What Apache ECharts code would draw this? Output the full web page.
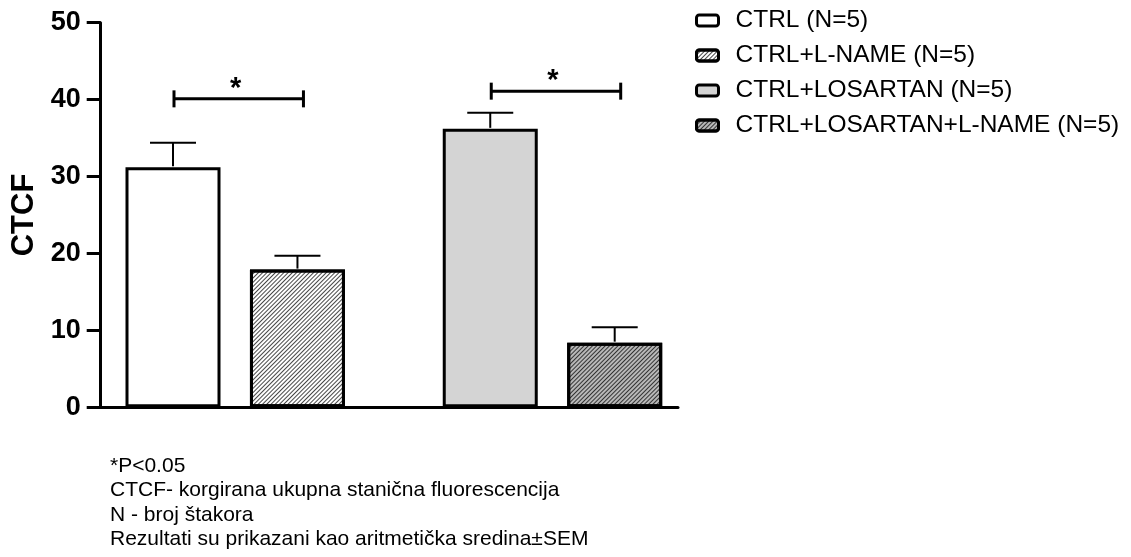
<!DOCTYPE html>
<html>
<head>
<meta charset="utf-8">
<script src="https://cdn.jsdelivr.net/npm/echarts@6/dist/echarts.min.js"></script>
<style>
  html, body { margin: 0; padding: 0; background: #fff; }
  #chart { width: 1131px; height: 557px; }
</style>
</head>
<body>
<div id="chart"></div>
<script>
// ---- data ----
const groups = ['CTRL', 'CTRL+LOSARTAN'];
const seriesNames = ['CTRL (N=5)', 'CTRL+L-NAME (N=5)', 'CTRL+LOSARTAN (N=5)', 'CTRL+LOSARTAN+L-NAME (N=5)'];
const means = [31.2, 17.9, 36.2, 8.4];
const sems = [3.2, 1.8, 2.1, 2.0];
const sigLevels = [40.1, 41.1];
const sigLabel = '*';
const yTicks = [0, 10, 20, 30, 40, 50];
const yTitle = 'CTCF';
const footnotes = [
  '*P<0.05',
  'CTCF- korgirana ukupna stanična fluorescencija',
  'N - broj štakora',
  'Rezultati su prikazani kao aritmetička sredina±SEM'
];

// ---- styles ----
const FONT = 'Arial, "Liberation Sans", sans-serif';
const fills = ['#ffffff', '#ffffff', '#d4d4d4', '#b8b8b8'];
const hatched = [false, true, false, true];
const BAR_W = 95;
const GAP_RATIO = 0.31;
const BAR_GAP = (GAP_RATIO * 100) + '%';
const HALF_STEP = (BAR_W + BAR_W * GAP_RATIO) / 2;

const hatchDecal = {
  symbol: 'rect',
  symbolSize: 1,
  color: 'rgba(0,0,0,0.72)',
  dashArrayX: [1, 0],
  dashArrayY: [1, 2],
  rotation: -Math.PI / 4
};

const chart = echarts.init(document.getElementById('chart'), null, { renderer: 'canvas' });

const barSeries = seriesNames.map((name, i) => {
  const g = Math.floor(i / 2);
  const data = groups.map((_, k) => (k === g ? means[i] : '-'));
  return {
    name: name,
    type: 'bar',
    xAxisIndex: 1,
    yAxisIndex: 1,
    stack: 'slot' + (i % 2),
    barWidth: BAR_W,
    barGap: BAR_GAP,
    data: data,
    itemStyle: {
      color: fills[i],
      borderColor: '#000',
      borderWidth: 3,
      decal: hatched[i] ? hatchDecal : null
    },
    emphasis: { disabled: true },
    z: 2
  };
});

const errData = means.map((m, i) => [Math.floor(i / 2), m, m + sems[i], i % 2]);

const errSeries = {
  type: 'custom',
  xAxisIndex: 1,
  yAxisIndex: 1,
  data: errData,
  z: 3,
  silent: true,
  renderItem: function (params, api) {
    const cx = api.coord([api.value(0), 0])[0] + (api.value(3) === 0 ? -1 : 1) * HALF_STEP;
    const yb = api.coord([api.value(0), api.value(1)])[1];
    const yt = api.coord([api.value(0), api.value(2)])[1];
    const st = { stroke: '#000', lineWidth: 2 };
    return {
      type: 'group',
      children: [
        { type: 'line', shape: { x1: cx, y1: yb - 1, x2: cx, y2: yt }, style: st },
        { type: 'line', shape: { x1: cx - 23, y1: yt, x2: cx + 23, y2: yt }, style: st }
      ]
    };
  }
};

const sigSeries = {
  type: 'custom',
  xAxisIndex: 1,
  yAxisIndex: 1,
  data: sigLevels.map((v, k) => [k, v]),
  z: 3,
  silent: true,
  renderItem: function (params, api) {
    const c = api.coord([api.value(0), api.value(1)]);
    const x1 = c[0] - HALF_STEP + 1;
    const x2 = c[0] + HALF_STEP + 6;
    const y = c[1];
    const st = { stroke: '#000', lineWidth: 3 };
    return {
      type: 'group',
      children: [
        { type: 'line', shape: { x1: x1, y1: y, x2: x2, y2: y }, style: st },
        { type: 'line', shape: { x1: x1, y1: y - 8.5, x2: x1, y2: y + 8.5 }, style: st },
        { type: 'line', shape: { x1: x2, y1: y - 8.5, x2: x2, y2: y + 8.5 }, style: st },
        {
          type: 'text',
          x: (x1 + x2) / 2 - 3,
          y: y - 10,
          style: {
            text: sigLabel,
            fill: '#000',
            font: 'bold 29px ' + FONT,
            align: 'center',
            verticalAlign: 'middle'
          }
        }
      ]
    };
  }
};

const option = {
  animation: false,
  backgroundColor: '#fff',
  title: {
    text: footnotes.join('\n'),
    left: 105,
    top: 449,
    textStyle: {
      fontFamily: FONT,
      fontSize: 21,
      fontWeight: 'normal',
      color: '#000',
      lineHeight: 24.4
    }
  },
  legend: {
    orient: 'vertical',
    left: 690,
    top: 3,
    itemWidth: 22,
    itemHeight: 11,
    itemGap: 10,
    icon: 'roundRect',
    data: seriesNames,
    selectedMode: false,
    itemStyle: { borderWidth: 3, borderColor: '#000' },
    textStyle: {
      fontFamily: FONT,
      fontSize: 24.5,
      color: '#000',
      lineHeight: 24.5,
      padding: [0, 0, 0, 12]
    }
  },
  grid: [
    { left: 100.7, right: 453, top: 22.7, bottom: 149.7, containLabel: false, outerBoundsMode: 'none' },
    { left: 76.6, right: 419.9, top: 22.7, bottom: 149.7, containLabel: false, outerBoundsMode: 'none' }
  ],
  xAxis: [
    {
      type: 'category',
      gridIndex: 0,
      data: [''],
      axisLine: { show: true, lineStyle: { color: '#000', width: 3 } },
      axisTick: { show: false },
      axisLabel: { show: false }
    },
    {
      type: 'category',
      gridIndex: 1,
      data: groups,
      axisLine: { show: false },
      axisTick: { show: false },
      axisLabel: { show: false }
    }
  ],
  yAxis: [
    {
      type: 'value',
      gridIndex: 0,
      min: yTicks[0],
      max: yTicks[yTicks.length - 1],
      interval: yTicks[1] - yTicks[0],
      name: yTitle,
      nameLocation: 'middle',
      nameGap: 60,
      nameRotate: 90,
      nameTextStyle: { fontFamily: FONT, fontSize: 31, fontWeight: 'bold', color: '#000' },
      axisLine: { show: true, lineStyle: { color: '#000', width: 3 } },
      axisTick: { show: true, length: 14, lineStyle: { color: '#000', width: 3 } },
      axisLabel: { fontFamily: FONT, fontSize: 27, fontWeight: 'bold', color: '#000', margin: 20 },
      splitLine: { show: false }
    },
    {
      type: 'value',
      gridIndex: 1,
      min: yTicks[0],
      max: yTicks[yTicks.length - 1],
      show: false,
      splitLine: { show: false }
    }
  ],
  series: barSeries.concat([errSeries, sigSeries])
};

chart.setOption(option);
</script>
</body>
</html>
